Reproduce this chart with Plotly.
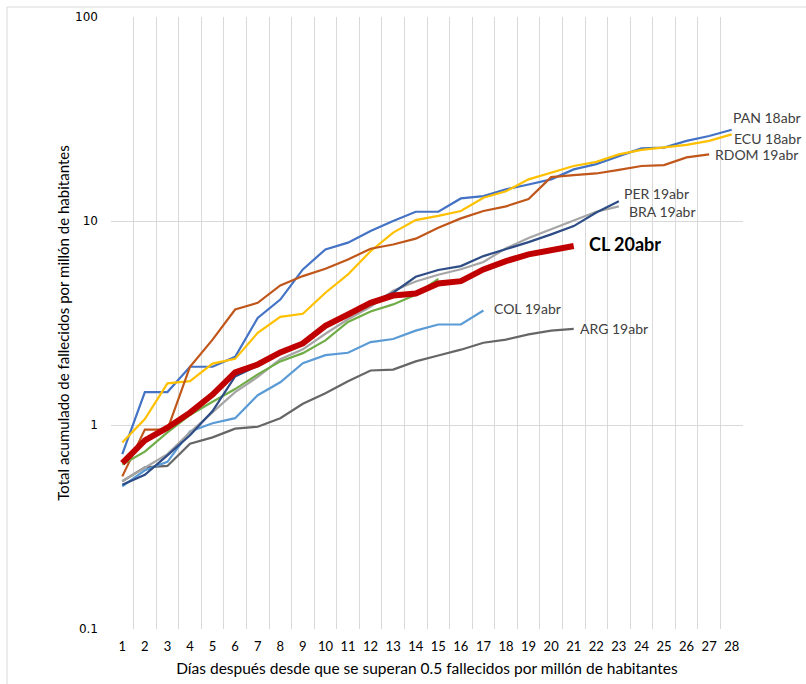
import math
import plotly.graph_objects as go

days = list(range(1, 29))

pan = [0.72, 1.45, 1.45, 1.93, 1.93, 2.16, 3.35, 4.12, 5.79, 7.26, 7.83, 8.93, 10.0, 11.1, 11.1, 12.9,
       13.25, 14.3, 15.1, 16.0, 17.9, 19.0, 20.8, 22.7, 22.9, 24.7, 26.1, 28.0]
ecu = [0.82, 1.07, 1.6, 1.64, 2.0, 2.11, 2.83, 3.39, 3.51, 4.45, 5.47, 7.11, 8.77, 10.1, 10.6, 11.2,
       13.0, 14.0, 16.0, 17.3, 18.6, 19.5, 21.2, 22.3, 22.9, 23.6, 24.7, 26.6]
rdom = [0.56, 0.95, 0.95, 1.93, 2.62, 3.68, 3.97, 4.83, 5.37, 5.83, 6.48, 7.31, 7.67, 8.19, 9.27, 10.3,
        11.2, 11.8, 12.8, 16.4, 16.8, 17.1, 17.8, 18.6, 18.8, 20.5, 21.2]
per = [0.51, 0.57, 0.71, 0.89, 1.17, 1.73, 1.95, 2.25, 2.55, 3.05, 3.45, 3.97, 4.45, 5.33, 5.75, 6.01,
       6.73, 7.26, 7.88, 8.6, 9.44, 11.0, 12.5]
bra = [0.53, 0.62, 0.72, 0.92, 1.15, 1.45, 1.72, 2.1, 2.35, 2.8, 3.3, 3.8, 4.55, 5.05, 5.45, 5.8,
       6.3, 7.35, 8.25, 9.1, 10.0, 11.1, 11.8]
green = [0.64, 0.74, 0.92, 1.12, 1.3, 1.5, 1.77, 2.05, 2.25, 2.6, 3.2, 3.6, 3.9, 4.35, 5.2]
col = [0.50, 0.6, 0.66, 0.93, 1.02, 1.08, 1.4, 1.62, 2.01, 2.2, 2.26, 2.55, 2.64, 2.9, 3.11, 3.11, 3.64]
arg = [0.53, 0.62, 0.63, 0.81, 0.87, 0.96, 0.98, 1.08, 1.27, 1.43, 1.64, 1.85, 1.87, 2.05, 2.19, 2.34,
       2.53, 2.62, 2.78, 2.9, 2.96]
cl = [0.65, 0.84, 0.97, 1.15, 1.41, 1.81, 1.98, 2.27, 2.51, 3.06, 3.48, 3.97, 4.31, 4.41, 4.94, 5.07,
      5.79, 6.36, 6.86, 7.2, 7.54]

y_tickvals = [0.1, 1, 10, 100]
y_ticktext = ["0.1", "1", "10", "100"]

series = [
    # name, values, color, width, label, xshift, yshift, bold
    ("PAN", pan, "#4472C4", 2.2, "PAN 18abr", -1, 12, False),
    ("ECU", ecu, "#FFC000", 2.2, "ECU 18abr", 0, -4, False),
    ("RDOM", rdom, "#C0561A", 2.2, "RDOM 19abr", 4, 0, False),
    ("ARG", arg, "#666666", 2.2, "ARG 19abr", 4, 0, False),
    ("COL", col, "#5B9BD5", 2.2, "COL 19abr", 9, 2, False),
    ("BRA", bra, "#A5A5A5", 2.2, "BRA 19abr", 8, -5, False),
    ("Otro", green, "#70AD47", 2.2, None, 0, 0, False),
    ("PER", per, "#2E4C85", 2.2, "PER 19abr", 3, 8, False),
    ("CL", cl, "#C00000", 6, "CL 20abr", 13, 2, True),
]

fig = go.Figure()
annotations = []
for name, vals, color, w, label, xs, ys, bold in series:
    xs_days = days[:len(vals)]
    fig.add_trace(go.Scatter(x=xs_days, y=vals, mode="lines", name=name,
                             line=dict(color=color, width=w), showlegend=False))
    if label:
        annotations.append(dict(
            x=xs_days[-1], y=math.log10(vals[-1]),
            xref="x", yref="y", text=f"<b>{label}</b>" if bold else label,
            showarrow=False, xanchor="left", yanchor="middle", xshift=xs, yshift=ys,
            font=dict(family="Lato", size=18 if bold else 14, color="#000000" if bold else "#404040")))

fig.update_layout(
    width=806, height=684,
    margin=dict(l=111, r=63, t=17, b=55, autoexpand=False),
    paper_bgcolor="white", plot_bgcolor="white",
    annotations=annotations,
    shapes=[dict(type="rect", xref="paper", yref="paper",
                 x0=(7 - 111) / 632, x1=(820 - 111) / 632,
                 y0=(629 - 700) / 612, y1=1 + (17 - 7) / 612,
                 line=dict(color="#D9D9D9", width=1), fillcolor="rgba(0,0,0,0)", layer="above")],
    xaxis=dict(
        range=[0.5, 28.5], tickmode="array", tickvals=days, ticktext=[str(d) for d in days],
        showgrid=False, zeroline=False, showline=False, ticks="", automargin=False,
        ticklabelstandoff=8,
        tickfont=dict(family="Lato", size=13, color="#000000"),
        minor=dict(tickvals=[d + 0.5 for d in range(0, 29)], showgrid=True,
                   gridcolor="#D9D9D9", gridwidth=1, ticks=""),
        title=dict(text="Días después desde que se superan 0.5 fallecidos por millón de habitantes",
                   font=dict(family="Lato", size=15.5, color="#000000"), standoff=10),
    ),
    yaxis=dict(
        type="log", range=[-1, 2], tickmode="array", tickvals=y_tickvals, ticktext=y_ticktext,
        showgrid=True, gridcolor="#D9D9D9", gridwidth=1, zeroline=False, showline=False,
        ticks="", ticklabelstandoff=12, automargin=False,
        tickfont=dict(family="DejaVu Sans", size=12, color="#000000"),
        title=dict(text="Total acumulado de fallecidos por millón de habitantes",
                   font=dict(family="Lato", size=15, color="#000000"), standoff=1),
    ),
)

fig.write_html("out.html", config={"displayModeBar": False},
               post_script="document.body.style.margin='0px';document.body.style.overflow='hidden';")
